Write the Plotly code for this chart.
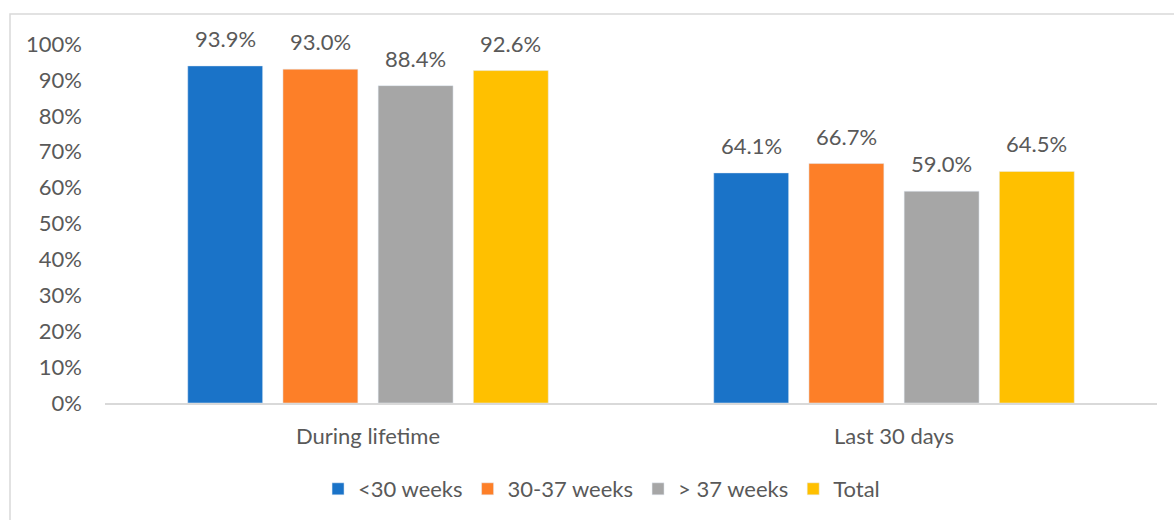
import plotly.graph_objects as go

categories = ["During lifetime", "Last 30 days"]
series_names = ["<30 weeks", "30-37 weeks", "> 37 weeks", "Total"]
lt30 = [0.939, 0.641]
w30_37 = [0.930, 0.667]
gt37 = [0.884, 0.590]
total = [0.926, 0.645]
colors = ["#1A73C8", "#FD7F28", "#A6A6A6", "#FFC000"]
y_ticks = [0, 0.1, 0.2, 0.3, 0.4, 0.5, 0.6, 0.7, 0.8, 0.9, 1.0]

W, H = 1174, 520
L, R, T, B = 105, 17, 44, 117
BARGAP = 0.276
GROUPGAP = 0.213
FS = 22

fig = go.Figure()
all_vals = [lt30, w30_37, gt37, total]
for name, vals, c in zip(series_names, all_vals, colors):
    fig.add_trace(go.Bar(x=categories, y=vals, name=name, marker_color=c))

# data labels above bars, positioned from the bar layout
slot = (1 - BARGAP) / len(series_names)
annotations = []
for i, vals in enumerate(all_vals):
    for ci, v in enumerate(vals):
        annotations.append(dict(
            x=ci + (i - (len(series_names) - 1) / 2) * slot, y=v, xref="x", yref="y",
            text=f"{v*100:.1f}%", showarrow=False, yanchor="bottom", yshift=12,
            font=dict(size=FS, color="#595959"),
        ))

pw = W - L - R
ph = H - T - B
def px(x):
    return (x - L) / pw
def py(y):
    return (H - B - y) / ph

fig.update_layout(
    width=W, height=H,
    margin=dict(l=L, r=R, t=T, b=B, autoexpand=False),
    paper_bgcolor="white", plot_bgcolor="white",
    font=dict(family="Lato, Open Sans, sans-serif", color="#595959", size=FS),
    barmode="group", bargap=BARGAP, bargroupgap=GROUPGAP,
    showlegend=True,
    legend=dict(orientation="h", x=0.472, xanchor="center", y=py(489), yanchor="middle",
                font=dict(size=FS, color="#595959"), itemwidth=30, traceorder="normal"),
    xaxis=dict(showgrid=False, showline=True, linecolor="#D9D9D9", linewidth=1.5,
               ticks="", tickfont=dict(size=FS, color="#595959"), ticklabelstandoff=13,
               automargin=False),
    yaxis=dict(range=[0, 1], tickvals=y_ticks, tickformat=".0%", showgrid=False,
               showline=False, zeroline=False, tickfont=dict(size=FS, color="#595959"),
               ticklabelstandoff=22, automargin=False),
    annotations=annotations,
    shapes=[
        dict(type="rect", xref="paper", yref="paper",
             x0=px(10), x1=px(1200), y0=py(14), y1=py(560),
             line=dict(color="#D9D9D9", width=1.5), fillcolor="rgba(0,0,0,0)", layer="below"),
    ],
)

fig.write_html("out.html", config={"displayModeBar": False},
               post_script="document.body.style.margin='0';document.body.style.overflow='hidden';")
